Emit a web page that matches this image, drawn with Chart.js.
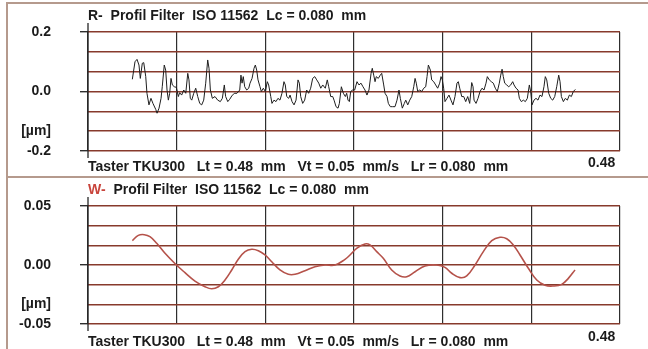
<!DOCTYPE html>
<html>
<head>
<meta charset="utf-8">
<script src="https://cdn.jsdelivr.net/npm/chart.js@4.4.0/dist/chart.umd.min.js"></script>
<style>
  html, body { margin: 0; padding: 0; background: #fff; }
  #wrap { position: relative; width: 648px; height: 349px; overflow: hidden; background: #fff; }
  canvas { position: absolute; left: 0; }
  .txt { position: absolute; font: bold 14px "Liberation Sans", Arial, sans-serif; color: #1b1b1b; white-space: pre; line-height: 16px; }
  .red { color: #c8443c; }
  .frame { position: absolute; background: #b59a8d; }
</style>
</head>
<body>
<div id="wrap">
  <canvas id="rChart" width="648" height="175" style="top:0"></canvas>
  <canvas id="wChart" width="648" height="174" style="top:175px"></canvas>
  <div class="frame" style="left:6px;top:2px;width:642px;height:2px"></div>
  <div class="frame" style="left:6px;top:2px;width:2px;height:347px"></div>
  <div class="frame" style="left:6px;top:176px;width:642px;height:2px"></div>
  <div class="txt" style="left:88px;top:7px">R-  Profil Filter  ISO 11562  Lc = 0.080  mm</div>
  <div class="txt" style="left:88px;top:158px">Taster TKU300   Lt = 0.48  mm   Vt = 0.05  mm/s   Lr = 0.080  mm</div>
  <div class="txt" style="left:588px;top:154px">0.48</div>
  <div class="txt" style="left:88px;top:181px"><span class="red">W-</span>  Profil Filter  ISO 11562  Lc = 0.080  mm</div>
  <div class="txt" style="left:88px;top:333px">Taster TKU300   Lt = 0.48  mm   Vt = 0.05  mm/s   Lr = 0.080  mm</div>
  <div class="txt" style="left:588px;top:328px">0.48</div>
</div>
<script>
// R-profile (roughness), position in mm / height in µm
const rX = [0.0400,0.0424,0.0442,0.0460,0.0472,0.0490,0.0503,0.0521,0.0532,0.0550,0.0568,0.0586,0.0611,0.0623,0.0641,0.0659,0.0670,0.0688,0.0701,0.0713,
  0.0725,0.0737,0.0749,0.0761,0.0779,0.0797,0.0815,0.0827,0.0845,0.0864,0.0882,0.0900,0.0911,0.0923,0.0936,0.0954,0.0972,0.0990,0.1008,0.1026,
  0.1044,0.1062,0.1080,0.1092,0.1104,0.1122,0.1146,0.1170,0.1194,0.1212,0.1230,0.1242,0.1261,0.1279,0.1297,0.1320,0.1344,0.1369,0.1380,0.1390,
  0.1401,0.1414,0.1432,0.1450,0.1462,0.1480,0.1498,0.1510,0.1522,0.1534,0.1552,0.1564,0.1582,0.1600,0.1618,0.1630,0.1649,0.1660,0.1678,0.1696,
  0.1714,0.1732,0.1750,0.1768,0.1780,0.1793,0.1811,0.1823,0.1841,0.1859,0.1877,0.1895,0.1907,0.1919,0.1937,0.1955,0.1973,0.1991,0.2009,0.2027,
  0.2046,0.2064,0.2082,0.2100,0.2118,0.2141,0.2159,0.2172,0.2190,0.2208,0.2220,0.2238,0.2256,0.2268,0.2286,0.2304,0.2322,0.2334,0.2346,0.2358,
  0.2370,0.2388,0.2406,0.2427,0.2445,0.2463,0.2481,0.2499,0.2517,0.2535,0.2554,0.2565,0.2578,0.2590,0.2601,0.2619,0.2637,0.2650,0.2668,0.2680,
  0.2698,0.2710,0.2728,0.2746,0.2770,0.2788,0.2806,0.2818,0.2836,0.2854,0.2867,0.2885,0.2903,0.2921,0.2939,0.2951,0.2962,0.2975,0.2993,0.3011,
  0.3029,0.3047,0.3059,0.3071,0.3089,0.3101,0.3119,0.3137,0.3155,0.3173,0.3185,0.3197,0.3209,0.3221,0.3239,0.3257,0.3275,0.3293,0.3311,0.3329,
  0.3341,0.3354,0.3372,0.3390,0.3408,0.3426,0.3444,0.3462,0.3474,0.3483,0.3501,0.3519,0.3537,0.3555,0.3573,0.3591,0.3603,0.3621,0.3639,0.3657,
  0.3675,0.3693,0.3711,0.3724,0.3736,0.3747,0.3760,0.3778,0.3796,0.3814,0.3832,0.3844,0.3862,0.3880,0.3892,0.3910,0.3928,0.3946,0.3964,0.3982,
  0.3994,0.4006,0.4024,0.4042,0.4060,0.4078,0.4096,0.4114,0.4126,0.4139,0.4157,0.4175,0.4193,0.4211,0.4229,0.4247,0.4259,0.4271,0.4289,0.4307,
  0.4325,0.4343,0.4361,0.4379,0.4397];
const rY = [0.041,0.100,0.108,0.089,0.044,0.095,0.097,0.050,-0.006,-0.045,-0.023,-0.040,-0.060,-0.073,-0.056,-0.023,0.016,0.089,0.072,0.005,
  -0.029,-0.006,0.044,0.022,0.016,0.014,-0.017,-0.004,-0.012,0.005,-0.006,0.061,0.039,-0.023,-0.029,-0.006,0.011,-0.017,-0.040,-0.045,
  -0.029,0.028,0.106,0.078,0.005,-0.023,-0.017,-0.029,-0.034,-0.023,0.022,-0.017,-0.034,-0.026,-0.015,-0.006,-0.006,0.005,0.055,0.028,
  0.050,0.016,0.005,0.011,0.028,0.044,0.078,0.089,0.072,0.039,0.016,0.000,0.011,0.000,0.033,0.022,-0.017,-0.040,-0.029,-0.034,
  -0.023,-0.029,-0.006,0.033,0.022,-0.017,-0.023,-0.012,-0.034,-0.045,-0.029,0.039,0.028,-0.017,-0.040,-0.029,0.005,-0.006,0.011,0.044,
  0.050,0.039,0.028,0.011,0.022,0.011,0.039,0.016,-0.017,-0.017,-0.029,-0.051,-0.056,-0.040,0.016,-0.006,-0.017,-0.006,-0.029,-0.034,
  0.000,0.005,0.005,0.033,0.022,0.028,0.016,0.005,-0.012,0.005,0.061,0.078,0.055,0.033,0.050,0.044,0.055,0.061,0.022,-0.006,
  -0.017,-0.040,-0.051,-0.051,-0.051,-0.029,0.005,-0.023,-0.056,-0.040,-0.029,-0.045,-0.029,-0.017,0.016,0.044,0.028,0.000,0.005,0.000,
  0.011,0.016,0.050,0.089,0.072,0.039,0.033,0.022,0.011,0.028,0.050,0.039,0.011,-0.034,-0.023,-0.012,-0.029,-0.045,-0.017,0.028,
  0.033,0.011,-0.017,-0.017,-0.034,-0.017,-0.040,0.030,0.016,-0.029,-0.040,-0.023,0.000,0.011,0.005,0.028,0.050,0.039,0.033,0.028,
  0.011,0.000,0.028,0.055,0.075,0.050,0.028,0.022,0.016,0.022,0.033,0.022,0.011,0.005,-0.023,-0.034,-0.029,-0.034,-0.023,0.022,
  0.000,-0.045,-0.029,-0.023,-0.029,-0.012,-0.017,0.016,0.050,0.039,-0.006,-0.023,-0.029,-0.017,0.016,0.055,0.033,-0.017,-0.034,-0.023,
  -0.029,-0.012,-0.017,0.000,0.007];

// W-profile (waviness)
const wX = [0.0400,0.0454,0.0508,0.0559,0.0620,0.0695,0.0791,0.0875,0.0965,0.1056,0.1116,0.1176,0.1236,0.1297,0.1356,0.1417,0.1477,0.1537,
  0.1597,0.1658,0.1732,0.1807,0.1868,0.1958,0.2048,0.2138,0.2229,0.2319,0.2364,0.2424,0.2499,0.2544,0.2605,0.2664,0.2740,0.2815,0.2876,
  0.2951,0.3041,0.3146,0.3221,0.3282,0.3357,0.3417,0.3492,0.3567,0.3643,0.3717,0.3778,0.3837,0.3898,0.3973,0.4049,0.4124,0.4198,0.4274,
  0.4334,0.4394];
const wY = [0.0206,0.0251,0.0257,0.0240,0.0184,0.0099,0.0006,-0.0065,-0.0136,-0.0184,-0.0201,-0.0184,-0.0127,-0.0042,0.0048,0.0113,0.0133,0.0121,
  0.0085,0.0028,-0.0042,-0.0079,-0.0079,-0.0048,-0.0014,0.0000,0.0000,0.0048,0.0085,0.0141,0.0178,0.0170,0.0113,0.0057,-0.0042,-0.0093,-0.0099,
  -0.0057,-0.0008,0.0000,-0.0020,-0.0070,-0.0107,-0.0093,0.0000,0.0113,0.0206,0.0235,0.0223,0.0170,0.0085,-0.0028,-0.0127,-0.0172,-0.0178,-0.0164,
  -0.0113,-0.0042];

// axes
const xGrid = [0, 0.08, 0.16, 0.24, 0.32, 0.40, 0.48];
const rTicks = [-0.2, -0.1333, -0.0667, 0, 0.0667, 0.1333, 0.2];
const rTickLabels = ['-0.2', '[µm]', '', '0.0', '', '', '0.2'];
const wTicks = [-0.05, -0.0333, -0.0167, 0, 0.0167, 0.0333, 0.05];
const wTickLabels = ['-0.05', '[µm]', '', '0.00', '', '', '0.05'];

const FONT = '"Liberation Sans", Arial, sans-serif';

// left axis line runs a bit past the plot area, like the instrument print
const axisLine = {
  id: 'axisLine',
  beforeDatasetsDraw(chart) {
    const { ctx, chartArea: a } = chart;
    ctx.save();
    ctx.strokeStyle = '#262626';
    ctx.lineWidth = 1.3;
    ctx.beginPath();
    ctx.moveTo(a.left, a.top - 9);
    ctx.lineTo(a.left, a.bottom + 7);
    ctx.stroke();
    ctx.restore();
  }
};

function profileChart(id, xs, ys, ticks, labels, color, width, tension, padBottom, padTop) {
  return new Chart(document.getElementById(id), {
    type: 'line',
    data: {
      datasets: [{
        data: xs.map((x, i) => ({ x: x, y: ys[i] })),
        borderColor: color,
        borderWidth: width,
        pointRadius: 0,
        tension: tension,
        fill: false
      }]
    },
    options: {
      responsive: false,
      animation: false,
      layout: { padding: { left: 0, right: 28, top: padTop, bottom: padBottom } },
      plugins: { legend: { display: false }, tooltip: { enabled: false } },
      scales: {
        x: {
          type: 'linear', min: 0, max: 0.48,
          afterBuildTicks: s => { s.ticks = xGrid.map(v => ({ value: v })); },
          ticks: { display: false },
          grid: { color: '#2e2e2e', lineWidth: 1.2, drawTicks: false },
          border: { display: false },
          afterFit: s => { s.height = 0; s.paddingLeft = 0; s.paddingRight = 0; s.paddingTop = 0; s.paddingBottom = 0; }
        },
        y: {
          min: ticks[0], max: ticks[ticks.length - 1],
          afterBuildTicks: s => { s.ticks = ticks.map(v => ({ value: v })); },
          ticks: {
            autoSkip: false,
            callback: (v, i) => labels[i],
            font: { family: FONT, size: 14, weight: 'bold' },
            color: '#1b1b1b',
            padding: 29,
            crossAlign: 'near'
          },
          grid: {
            color: '#873a2c',
            lineWidth: 1.4,
            tickLength: 8,
            tickColor: c => (labels[c.index] && labels[c.index] !== '[µm]') ? '#2e2e2e' : 'rgba(0,0,0,0)'
          },
          border: { display: false },
          afterFit: s => { s.width = 88; s.paddingTop = 0; s.paddingBottom = 0; s.paddingLeft = 0; s.paddingRight = 0; }
        }
      }
    },
    plugins: [axisLine]
  });
}

profileChart('rChart', rX, rY, rTicks, rTickLabels, '#1e1e1e', 1, 0, 24, 32);
profileChart('wChart', wX, wY, wTicks, wTickLabels, '#b5524a', 1.6, 0.4, 25, 31);
</script>
</body>
</html>
